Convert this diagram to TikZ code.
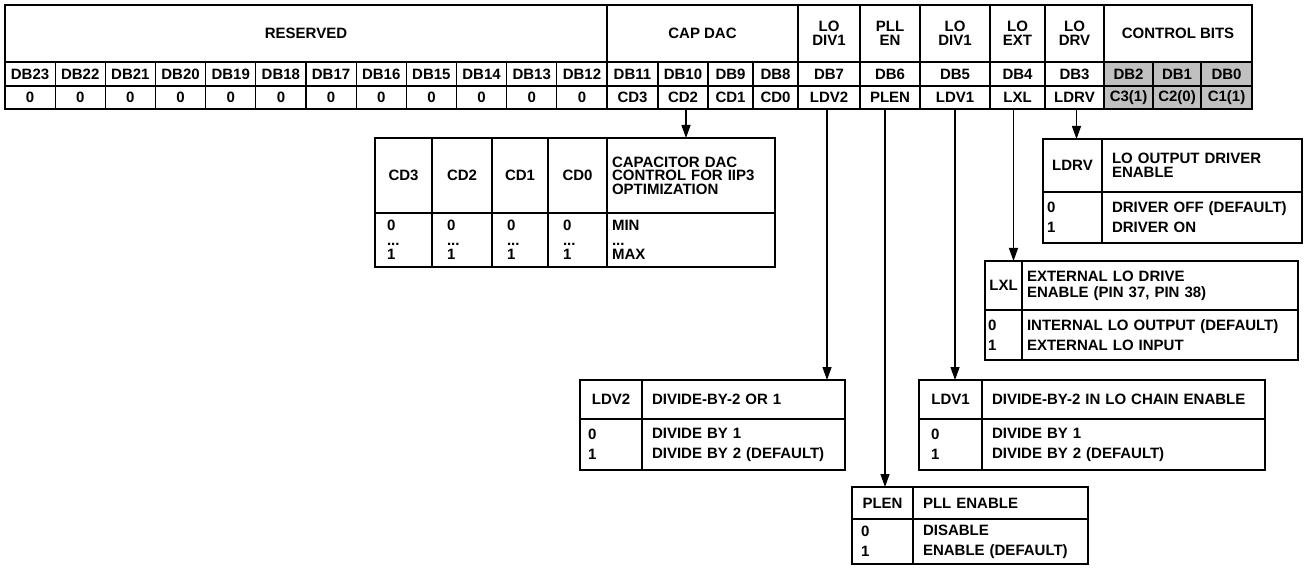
\documentclass[tikz,border=0pt]{standalone}
\usepackage{fontspec}
\setmainfont{Liberation Sans}
\usetikzlibrary{arrows.meta}
\definecolor{ctrlgray}{RGB}{192,192,192}

\begin{document}
\begin{tikzpicture}[
  x=1pt, y=-1pt,
  cell/.style={draw, line width=1.1pt, anchor=north west, inner sep=0pt, outer sep=0pt, align=center,
    font=\fontsize{15}{13.5}\selectfont\bfseries},
  body/.style={cell, font=\fontsize{15}{20}\selectfont\bfseries},
  frame/.style={line width=2.2pt},
  arrow/.style={-{Triangle[length=13pt,width=9pt]}, line width=1.3pt}
]
\useasboundingbox (0,0) rectangle (1306,569);

% register header
\node[cell, minimum width=602, minimum height=57] (resv) at (5,5) {RESERVED};
\node[cell, minimum width=191, minimum height=57] (capdac) at (607,5) {CAP DAC};
\node[cell, minimum width=62, minimum height=57] (lodiva) at (798,5) {LO\\DIV1};
\node[cell, minimum width=60, minimum height=57] (pllen) at (860,5) {PLL\\EN};
\node[cell, minimum width=70, minimum height=57] (lodivb) at (920,5) {LO\\DIV1};
\node[cell, minimum width=55, minimum height=57] (loext) at (990,5) {LO\\EXT};
\node[cell, minimum width=59, minimum height=57] (lodrv) at (1045,5) {LO\\DRV};
\node[cell, minimum width=148, minimum height=57] (ctrl) at (1104,5) {CONTROL BITS};

% bit rows
\foreach \i in {0,...,11}{
  \pgfmathtruncatemacro\n{23-\i}
  \node[cell, minimum width=50.17, minimum height=24] (db\n) at (5+\i*50.1667,62) {DB\n};
  \node[cell, minimum width=50.17, minimum height=23] (v\n) at (5+\i*50.1667,86) {0};
}
\foreach \x/\w/\n/\val in {607/51/11/CD3, 658/50/10/CD2, 708/45/9/CD1, 753/45/8/CD0,
    798/62/7/LDV2, 860/60/6/PLEN, 920/70/5/LDV1, 990/55/4/LXL, 1045/59/3/LDRV}{
  \node[cell, minimum width=\w, minimum height=24] (db\n) at (\x,62) {DB\n};
  \node[cell, minimum width=\w, minimum height=23] (v\n) at (\x,86) {\val};
}
\foreach \x/\w/\n/\val in {1104/49/2/C3(1), 1153/48/1/C2(0), 1201/51/0/C1(1)}{
  \node[cell, fill=ctrlgray, minimum width=\w, minimum height=24] (db\n) at (\x,62) {DB\n};
  \node[cell, fill=ctrlgray, minimum width=\w, minimum height=23] (v\n) at (\x,86) {\val};
}
\draw[frame] (resv.north west) rectangle (v0.south east);

% capacitor DAC table
\node[cell, minimum width=57, minimum height=75] (cdh3) at (375,138) {CD3};
\node[cell, minimum width=60, minimum height=75] (cdh2) at (432,138) {CD2};
\node[cell, minimum width=56, minimum height=75] (cdh1) at (492,138) {CD1};
\node[cell, minimum width=59, minimum height=75] (cdh0) at (548,138) {CD0};
\node[cell, minimum width=168, minimum height=75, text width=158, inner xsep=5, align=left] (capdesc) at (607,138)
  {CAPACITOR DAC\\CONTROL FOR IIP3\\OPTIMIZATION};
\node[cell, font=\fontsize{15}{14.5}\selectfont\bfseries, minimum width=57, minimum height=54, text width=33, inner xsep=12, align=left] (cdb3) at (375,213) {0\\...\\1};
\node[cell, font=\fontsize{15}{14.5}\selectfont\bfseries, minimum width=60, minimum height=54, text width=30, inner xsep=15, align=left] (cdb2) at (432,213) {0\\...\\1};
\node[cell, font=\fontsize{15}{14.5}\selectfont\bfseries, minimum width=56, minimum height=54, text width=26, inner xsep=15, align=left] (cdb1) at (492,213) {0\\...\\1};
\node[cell, font=\fontsize{15}{14.5}\selectfont\bfseries, minimum width=59, minimum height=54, text width=29, inner xsep=15, align=left] (cdb0) at (548,213) {0\\...\\1};
\node[cell, font=\fontsize{15}{14.5}\selectfont\bfseries, minimum width=168, minimum height=54, text width=158, inner xsep=5, align=left] (capbody) at (607,213) {MIN\\...\\MAX};
\draw[frame] (cdh3.north west) rectangle (capbody.south east);

% LO output driver table
\node[cell, minimum width=59, minimum height=53] (ldrvh) at (1043,139) {LDRV};
\node[cell, minimum width=200, minimum height=53, text width=180, inner xsep=10, align=left] (ldrvdesc) at (1102,139)
  {LO OUTPUT DRIVER\\ENABLE};
\node[body, minimum width=59, minimum height=51, text width=51, inner xsep=4, align=left] (ldrvb) at (1043,192) {0\\1};
\node[body, minimum width=200, minimum height=51, text width=180, inner xsep=10, align=left] (ldrvbody) at (1102,192)
  {DRIVER OFF (DEFAULT)\\DRIVER ON};
\draw[frame] (ldrvh.north west) rectangle (ldrvbody.south east);

% external LO table
\node[cell, minimum width=37, minimum height=49] (lxlh) at (985,261) {LXL};
\node[cell, font=\fontsize{15}{16}\selectfont\bfseries, minimum width=276, minimum height=49, text width=266, inner xsep=5, align=left] (lxldesc) at (1022,261)
  {EXTERNAL LO DRIVE\\ENABLE (PIN 37, PIN 38)};
\node[body, minimum width=37, minimum height=50, text width=31, inner xsep=3, align=left] (lxlb) at (985,310) {0\\1};
\node[body, minimum width=276, minimum height=50, text width=266, inner xsep=5, align=left] (lxlbody) at (1022,310)
  {INTERNAL LO OUTPUT (DEFAULT)\\EXTERNAL LO INPUT};
\draw[frame] (lxlh.north west) rectangle (lxlbody.south east);

% LO divider 2 table
\node[cell, minimum width=62, minimum height=39] (ldv2h) at (580,380) {LDV2};
\node[cell, minimum width=203, minimum height=39, text width=183, inner xsep=10, align=left] (ldv2desc) at (642,380)
  {DIVIDE-BY-2 OR 1};
\node[body, minimum width=62, minimum height=51, text width=46, inner xsep=8, align=left] (ldv2b) at (580,419) {0\\1};
\node[body, minimum width=203, minimum height=51, text width=183, inner xsep=10, align=left] (ldv2body) at (642,419)
  {DIVIDE BY 1\\DIVIDE BY 2 (DEFAULT)};
\draw[frame] (ldv2h.north west) rectangle (ldv2body.south east);

% LO divider 1 table
\node[cell, minimum width=63, minimum height=39] (ldv1h) at (919,380) {LDV1};
\node[cell, minimum width=283, minimum height=39, text width=263, inner xsep=10, align=left] (ldv1desc) at (982,380)
  {DIVIDE-BY-2 IN LO CHAIN ENABLE};
\node[body, minimum width=63, minimum height=51, text width=39, inner xsep=12, align=left] (ldv1b) at (919,419) {0\\1};
\node[body, minimum width=283, minimum height=51, text width=263, inner xsep=10, align=left] (ldv1body) at (982,419)
  {DIVIDE BY 1\\DIVIDE BY 2 (DEFAULT)};
\draw[frame] (ldv1h.north west) rectangle (ldv1body.south east);

% PLL enable table
\node[cell, minimum width=61, minimum height=32] (plenh) at (852,487) {PLEN};
\node[cell, minimum width=175, minimum height=32, text width=155, inner xsep=10, align=left] (plendesc) at (913,487)
  {PLL ENABLE};
\node[body, minimum width=61, minimum height=45, text width=43, inner xsep=9, align=left] (plenb) at (852,519) {0\\1};
\node[body, minimum width=175, minimum height=45, text width=155, inner xsep=10, align=left] (plenbody) at (913,519)
  {DISABLE\\ENABLE (DEFAULT)};
\draw[frame] (plenh.north west) rectangle (plenbody.south east);

% connectors
\draw[arrow] ([xshift=3pt]v10.south) -- ([xshift=3pt]v10.south |- cdh3.north);
\draw[arrow] ([xshift=-2pt]v7.south) -- ([xshift=-2pt]v7.south |- ldv2h.north);
\draw[arrow] ([xshift=-5pt]v6.south) -- ([xshift=-5pt]v6.south |- plenh.north);
\draw[arrow] (v5.south) -- (v5.south |- ldv1h.north);
\draw[arrow] ([xshift=-4pt]v4.south) -- ([xshift=-4pt]v4.south |- lxlh.north);
\draw[arrow] ([xshift=2pt]v3.south) -- ([xshift=2pt]v3.south |- ldrvh.north);
\end{tikzpicture}
\end{document}
